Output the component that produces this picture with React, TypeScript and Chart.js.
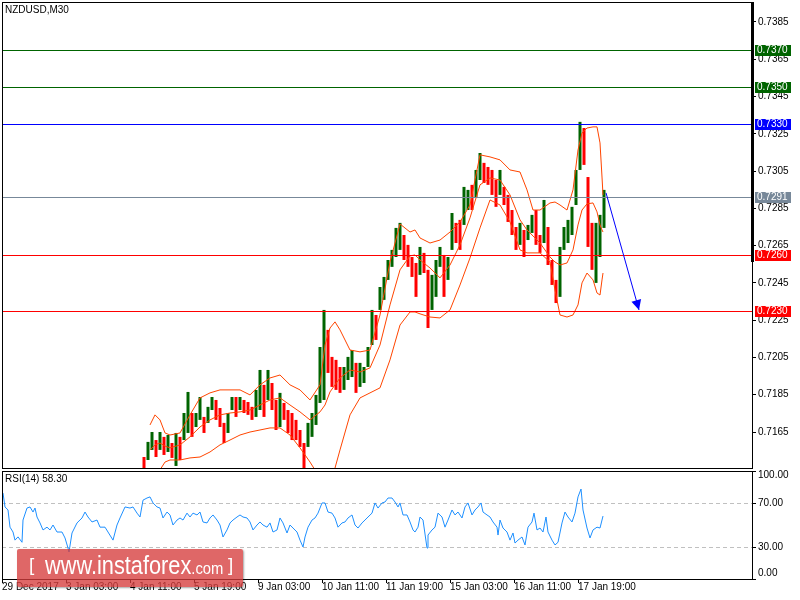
import React, { useEffect, useRef } from "react";
import { Chart, registerables } from "chart.js";

Chart.register(...registerables);

const FONT = "'Liberation Sans', Arial, sans-serif";
Chart.defaults.font.family = FONT;

// ---------------- data ----------------
const symbolTitle = "NZDUSD,M30";
const rsiTitle = "RSI(14) 58.30";

// candles (one sample every 4 M30 bars, starting at bar 142 of the window)
const firstCandleBar = 142;
const barsPerCandle = 4;
const candleHigh = [
  0.71516, 0.71597, 0.7165, 0.71607, 0.7165, 0.71624, 0.71634, 0.71591, 0.71645, 0.71624,
  0.71752, 0.71865, 0.71752, 0.71752, 0.71838, 0.71731, 0.71785, 0.71838, 0.71822, 0.71779,
  0.71699, 0.71752, 0.71838, 0.71838, 0.71838, 0.71822, 0.71811, 0.71785, 0.71876, 0.71983,
  0.71903, 0.71983, 0.71913, 0.71822, 0.7186, 0.71806, 0.71768, 0.71752, 0.71715, 0.71661,
  0.71591, 0.71699, 0.71752, 0.71849, 0.72106, 0.72305, 0.72198, 0.72053, 0.72037, 0.71999,
  0.71999, 0.72053, 0.7209, 0.72021, 0.72021, 0.71999, 0.72106, 0.72305, 0.72278, 0.72428,
  0.72482, 0.72573, 0.72627, 0.72745, 0.72772, 0.72707, 0.72654, 0.72589, 0.72557, 0.72643,
  0.72611, 0.7252, 0.72493, 0.72573, 0.72643, 0.726, 0.72589, 0.72825, 0.72772, 0.72788,
  0.72965, 0.72949, 0.72976, 0.73056, 0.73147, 0.73094, 0.73072, 0.73056, 0.73002, 0.73056,
  0.72965, 0.72922, 0.72841, 0.7275, 0.72772, 0.72734, 0.72761, 0.72815, 0.72841, 0.72707,
  0.72895, 0.7275, 0.72573, 0.72466, 0.72643, 0.7275, 0.72788, 0.72858, 0.73056, 0.73314,
  0.73281, 0.73018, 0.72772, 0.72772, 0.72815, 0.72949,
];
const candleLow = [
  0.71457, 0.715, 0.71554, 0.71516, 0.71554, 0.71527, 0.71543, 0.71511, 0.71468, 0.715,
  0.71607, 0.71645, 0.71624, 0.71677, 0.71715, 0.71645, 0.71699, 0.71768, 0.71715, 0.71677,
  0.71591, 0.71645, 0.71768, 0.71731, 0.71768, 0.71752, 0.71742, 0.71715, 0.71731, 0.71768,
  0.71731, 0.71822, 0.71768, 0.71661, 0.71677, 0.71715, 0.71645, 0.71607, 0.71607, 0.7157,
  0.71457, 0.7157, 0.71624, 0.71688, 0.71806, 0.71822, 0.71967, 0.71892, 0.71876, 0.7186,
  0.71876, 0.71929, 0.71945, 0.7186, 0.71892, 0.71913, 0.71999, 0.72117, 0.72144, 0.72305,
  0.72359, 0.72466, 0.72536, 0.72589, 0.72627, 0.72573, 0.72536, 0.72482, 0.72375, 0.72493,
  0.72503, 0.72208, 0.72305, 0.72375, 0.72536, 0.72375, 0.72466, 0.72627, 0.72664, 0.72627,
  0.72761, 0.72841, 0.72841, 0.72911, 0.73002, 0.72986, 0.72976, 0.72922, 0.72858, 0.72922,
  0.72868, 0.72777, 0.72707, 0.72627, 0.72654, 0.72589, 0.7268, 0.72718, 0.72654, 0.72611,
  0.72664, 0.72546, 0.72439, 0.72342, 0.72375, 0.72627, 0.72664, 0.72707, 0.72868, 0.73056,
  0.73083, 0.72643, 0.7252, 0.7245, 0.72589, 0.72745,
];
const candleClose = [
  0.71489, 0.71565, 0.71607, 0.71554, 0.71618, 0.71565, 0.71607, 0.71543, 0.71581, 0.71554,
  0.71715, 0.71742, 0.71688, 0.71725, 0.71795, 0.71688, 0.71758, 0.71811, 0.71768, 0.71725,
  0.71661, 0.71715, 0.71801, 0.71779, 0.71811, 0.7179, 0.71768, 0.71747, 0.71833, 0.71849,
  0.71822, 0.7194, 0.71822, 0.71742, 0.71795, 0.71758, 0.71688, 0.71661, 0.71634, 0.71607,
  0.71527, 0.7165, 0.71704, 0.71795, 0.72037, 0.72064, 0.72037, 0.71956, 0.7194, 0.71929,
  0.71956, 0.7201, 0.72026, 0.71929, 0.71972, 0.71972, 0.72064, 0.72224, 0.72198, 0.72369,
  0.72439, 0.7253, 0.726, 0.7268, 0.72707, 0.72627, 0.72584, 0.7252, 0.72466, 0.726,
  0.72546, 0.72412, 0.72412, 0.7252, 0.726, 0.7252, 0.72562, 0.72745, 0.72723, 0.72691,
  0.72895, 0.72906, 0.72895, 0.72992, 0.73083, 0.73045, 0.73013, 0.72992, 0.72949, 0.72976,
  0.72922, 0.72841, 0.72761, 0.7268, 0.72723, 0.7267, 0.72723, 0.72761, 0.72723, 0.72654,
  0.72815, 0.726, 0.72493, 0.72402, 0.72573, 0.72707, 0.72745, 0.72815, 0.73002, 0.73271,
  0.73137, 0.72734, 0.72627, 0.7268, 0.72707, 0.72906,
];
const firstOpen = 0.71516;

// Bollinger bands
const bandBar = [
  148, 153, 158, 163, 168, 178, 188, 198, 208, 218, 228, 238, 248, 258, 268, 278, 288, 298, 308, 318,
  323, 328, 333, 338, 348, 358, 368, 378, 388, 398, 408, 413, 418, 428, 438, 448, 458, 468, 478, 488,
  498, 508, 518, 525, 531, 538, 548, 553, 558, 565, 571, 576, 580, 585, 591, 595, 598, 600, 601,
];
const bandUpper = [
  0.71688, 0.71742, 0.71715, 0.71645, 0.71634,
  0.71645, 0.71742, 0.71833, 0.7186, 0.71876, 0.71876, 0.71876, 0.71849, 0.71903, 0.7194, 0.71956, 0.71903, 0.71876, 0.71822, 0.71903,
  0.72117, 0.72208, 0.72241, 0.72198,
  0.7209, 0.7208, 0.7209, 0.72278, 0.72562, 0.72766, 0.72723,
  0.72734, 0.72691,
  0.72664, 0.7268, 0.72723, 0.72777, 0.72868, 0.73137, 0.73126, 0.7311, 0.73056, 0.73045,
  0.72949, 0.72841, 0.72841,
  0.72879, 0.72884, 0.72868,
  0.72841, 0.72949, 0.73163, 0.73255, 0.73281, 0.73287, 0.73287, 0.73201, 0.73018, 0.72922,
];
const bandMiddle = [
  0.71554, 0.71581, 0.71591, 0.71575, 0.71565,
  0.71581, 0.71624, 0.71677, 0.71715, 0.71742, 0.71752, 0.71758, 0.71768, 0.71795, 0.71822, 0.71833, 0.71795, 0.71758, 0.71715, 0.71758,
  0.71795, 0.71865, 0.71903, 0.7194,
  0.71983, 0.71972, 0.71994, 0.72117, 0.72332, 0.7252, 0.72595,
  0.726, 0.72573,
  0.7253, 0.72477, 0.72546, 0.72654, 0.72799, 0.72976, 0.73013, 0.73002, 0.72922, 0.72788,
  0.72734, 0.72702, 0.72664,
  0.72589, 0.72562, 0.72546,
  0.72557, 0.72627, 0.72761, 0.72841, 0.72874, 0.72879, 0.72831, 0.72761, 0.72734, 0.72723,
];
const bandLower = [
  0.71447, 0.71436, 0.71447, 0.71489, 0.715,
  0.715, 0.71511, 0.71516, 0.71543, 0.71581, 0.71607, 0.71634, 0.7165, 0.71661, 0.71672, 0.71672, 0.71634, 0.71565, 0.71489, 0.71404,
  0.71382, 0.71404, 0.71457, 0.71554,
  0.71742, 0.71833, 0.7186, 0.71887, 0.72037, 0.72224, 0.72294,
  0.72294, 0.72284,
  0.72267, 0.72262, 0.72305, 0.72439, 0.72584, 0.72745, 0.72895, 0.72868, 0.72777, 0.72627,
  0.72611, 0.72611, 0.72611,
  0.72562, 0.72412, 0.72278,
  0.72267, 0.72278, 0.72332, 0.7245, 0.72503, 0.72466, 0.72396, 0.72385, 0.72466, 0.72503,
];

// RSI(14)
const rsiBar = [
  1, 3, 6, 8, 11, 13, 16, 20, 21, 25, 28, 31, 33, 35, 38, 41, 45, 48, 51, 55,
  60, 63, 66, 67, 70, 75, 80, 83, 86, 90, 95, 98, 103, 106, 111, 115, 118, 123, 128, 131,
  135, 138, 141, 145, 148, 151, 155, 158, 161, 165, 168, 171, 175, 178, 181, 185, 188, 191, 195, 198,
  201, 205, 208, 211, 215, 218, 221, 225, 228, 231, 235, 238, 241, 245, 248, 251, 255, 258, 261, 265,
  268, 271, 275, 278, 281, 285, 288, 291, 295, 298, 301, 303, 306, 310, 313, 316, 320, 323, 326, 330,
  333, 336, 340, 343, 346, 350, 353, 356, 360, 363, 366, 370, 373, 376, 380, 383, 386, 390, 393, 396,
  398, 401, 405, 408, 411, 413, 416, 418, 421, 425, 426, 430, 433, 436, 440, 443, 446, 450, 453, 456,
  460, 463, 466, 470, 473, 476, 479, 481, 485, 488, 491, 495, 496, 498, 501, 505, 508, 511, 513, 516,
  520, 523, 526, 530, 532, 535, 538, 541, 544, 546, 550, 553, 556, 560, 563, 566, 570, 573, 576, 579,
  581, 585, 588, 591, 595, 598, 601,
];
const rsiValue = [
  79.6, 66.7, 63.9, 48, 43.5, 36, 39, 34, 54.6, 65.7, 66.7, 62, 65.7, 57.4, 51.9, 45.4, 48, 45.4, 50, 43.5,
  43.5, 38, 28.7, 25, 42.6, 51.9, 56.5, 62, 57.4, 52.8, 54.6, 48, 48, 43.5, 36, 50, 56.5, 66.7, 65.7, 66.7,
  61, 57.4, 73, 75, 76, 70.4, 66.7, 65.7, 56.5, 62, 59.3, 50, 54.6, 56.5, 54.6, 61, 57.4, 61, 59.3, 62,
  52.8, 51.9, 56.5, 59.3, 54.6, 50, 38.9, 45.4, 51.9, 54.6, 57.4, 59.3, 57.4, 56.5, 52.8, 45.4, 50, 52.8, 50, 48,
  51.9, 43.5, 45.4, 56.5, 51.9, 42.6, 50, 47.2, 43.5, 36, 29.6, 38.9, 48, 54.6, 56.5, 61, 70.4, 70.4, 62, 61,
  56.5, 48, 51.9, 52.8, 56.5, 59.3, 50, 47.2, 51.9, 54.6, 57.4, 61, 70.4, 65.7, 70.4, 71.3, 75, 75, 71.3, 66.7,
  70.4, 59.3, 59.3, 52.8, 45.4, 43.5, 48, 57.4, 54.6, 28.7, 40.7, 45.4, 48, 61, 57.4, 48, 54.6, 63.9, 59.3, 62,
  56.5, 66.7, 70.4, 59.3, 63.9, 66.7, 70.4, 62, 59.3, 57.4, 52.8, 48, 40.7, 54.6, 47.2, 43.5, 36, 42.6, 33.3, 36,
  38.9, 31.5, 48, 52.8, 61, 45.4, 47.2, 43.5, 57.4, 43.5, 36, 31.5, 34, 51.9, 62, 57.4, 52.8, 61, 76, 83.3,
  63.9, 47.2, 38, 45.4, 48, 47.2, 58.3,
];

// axes
const priceTicks = [0.7385, 0.7365, 0.7345, 0.7325, 0.7305, 0.7285, 0.7265, 0.7245, 0.7225, 0.7205, 0.7185, 0.7165];
const priceMin = 0.71457;
const priceMax = 0.73957;
const barMin = 0;
const barMax = 750;
const timeBars = [0, 64, 128, 192, 256, 320, 384, 448, 512, 576];
const timeLabels = [
  "29 Dec 2017", "3 Jan 03:00", "4 Jan 11:00", "5 Jan 19:00", "9 Jan 03:00",
  "10 Jan 11:00", "11 Jan 19:00", "15 Jan 03:00", "16 Jan 11:00", "17 Jan 19:00",
];
const rsiDashedLevels = [70, 30];
const rsiAxisLevels = [100, 70, 30, 0];

// horizontal levels and forecast arrow
const levelPrices = [0.737, 0.735, 0.733, 0.7291, 0.726, 0.723];
const levelColors = ["#006400", "#006400", "#0000ff", "#778899", "#ff0000", "#ff0000"];
const arrowStart = { bar: 604, price: 0.72933 };
const arrowEnd = { bar: 637, price: 0.72305 };

// ---------------- styles ----------------
const UP = "#006400";
const DOWN = "#ff0000";
const BAND = "#ff4500";
const RSI_COLOR = "#1e90ff";

function mainConfig(): any {
  const candleBars = candleHigh.map((_, i) => firstCandleBar + i * barsPerCandle);
  const candleOpen = candleClose.map((_, i) => (i === 0 ? firstOpen : candleClose[i - 1]));
  const colors = candleClose.map((c, i) => (c >= candleOpen[i] ? UP : DOWN));
  const bandLine = (vals: number[]) => ({
    type: "line",
    data: bandBar.map((b, i) => ({ x: b, y: vals[i] })),
    borderColor: BAND,
    borderWidth: 1,
    pointRadius: 0,
    tension: 0,
    fill: false,
    order: 1,
  });

  const decor = {
    id: "mainDecor",
    beforeDraw(chart: any) {
      const { ctx, width, height } = chart;
      ctx.save();
      ctx.fillStyle = "#ffffff";
      ctx.fillRect(0, 0, width, height);
      ctx.restore();
    },
    afterDraw(chart: any) {
      const { ctx, chartArea, scales } = chart;
      const { left, top, right, bottom } = chartArea;
      const x = scales.x;
      const y = scales.y;
      ctx.save();
      // horizontal levels
      ctx.lineWidth = 1;
      levelPrices.forEach((p, i) => {
        const py = Math.round(y.getPixelForValue(p)) + 0.5;
        ctx.strokeStyle = levelColors[i];
        ctx.beginPath();
        ctx.moveTo(left, py);
        ctx.lineTo(right, py);
        ctx.stroke();
      });
      // arrow
      const x0 = x.getPixelForValue(arrowStart.bar);
      const y0 = y.getPixelForValue(arrowStart.price);
      const x1 = x.getPixelForValue(arrowEnd.bar);
      const y1 = y.getPixelForValue(arrowEnd.price);
      ctx.strokeStyle = "#0000ff";
      ctx.fillStyle = "#0000ff";
      ctx.beginPath();
      ctx.moveTo(x0, y0);
      ctx.lineTo(x1, y1);
      ctx.stroke();
      const ang = Math.atan2(y1 - y0, x1 - x0);
      const L = 10;
      const W = 5;
      ctx.beginPath();
      ctx.moveTo(x1, y1);
      ctx.lineTo(x1 - L * Math.cos(ang) + W * Math.sin(ang), y1 - L * Math.sin(ang) - W * Math.cos(ang));
      ctx.lineTo(x1 - L * Math.cos(ang) - W * Math.sin(ang), y1 - L * Math.sin(ang) + W * Math.cos(ang));
      ctx.closePath();
      ctx.fill();
      // frame
      ctx.strokeStyle = "#000";
      ctx.lineWidth = 1;
      ctx.strokeRect(left + 0.5, top + 0.5, right - left, bottom - top);
      ctx.fillStyle = "#000";
      ctx.fillRect(right - 1, top, 3, 260);
      // level price boxes
      ctx.font = "10px " + FONT;
      ctx.textBaseline = "middle";
      ctx.textAlign = "left";
      levelPrices.forEach((p, i) => {
        const py = Math.round(y.getPixelForValue(p));
        ctx.fillStyle = levelColors[i];
        ctx.fillRect(right + 3, py - 5, 36, 11);
        ctx.fillStyle = "#ffffff";
        ctx.fillText(p.toFixed(4), right + 5, py + 0.5);
      });
      // title
      ctx.fillStyle = "#000";
      ctx.font = "10px " + FONT;
      ctx.fillText(symbolTitle, 5, 10);
      ctx.restore();
    },
  };

  return {
    type: "bar",
    data: {
      datasets: [
        bandLine(bandUpper),
        bandLine(bandMiddle),
        bandLine(bandLower),
        {
          type: "bar",
          data: candleBars.map((b, i) => ({ x: b, y: [candleLow[i], candleHigh[i]] })),
          backgroundColor: colors,
          borderWidth: 0,
          barThickness: 3,
          inflateAmount: 0,
          order: 2,
        },
      ],
    },
    options: {
      responsive: false,
      animation: false,
      events: [],
      layout: { padding: { left: 2, top: 2, right: 0, bottom: 1 } },
      plugins: { legend: { display: false }, tooltip: { enabled: false } },
      scales: {
        x: { type: "linear", min: barMin, max: barMax, display: false, offset: false },
        y: {
          type: "linear",
          position: "right",
          min: priceMin,
          max: priceMax,
          afterBuildTicks: (s: any) => {
            s.ticks = priceTicks.map((v) => ({ value: v }));
          },
          afterFit: (s: any) => {
            s.width = 48;
            s.paddingTop = 0;
            s.paddingBottom = 0;
          },
          ticks: {
            color: "#000",
            font: { family: FONT, size: 10 },
            padding: 2,
            autoSkip: false,
            callback: (v: any) => Number(v).toFixed(4),
          },
          grid: { drawOnChartArea: false, drawTicks: true, tickLength: 4, color: "#000" },
          border: { display: false },
        },
      },
    },
    plugins: [decor],
  };
}

function rsiConfig(): any {
  const decor = {
    id: "rsiDecor",
    beforeDraw(chart: any) {
      const { ctx, width, height } = chart;
      ctx.save();
      ctx.fillStyle = "#ffffff";
      ctx.fillRect(0, 0, width, height);
      ctx.restore();
    },
    beforeDatasetsDraw(chart: any) {
      const { ctx, chartArea, scales } = chart;
      ctx.save();
      ctx.strokeStyle = "#c0c0c0";
      ctx.lineWidth = 1;
      ctx.setLineDash([4, 3]);
      rsiDashedLevels.forEach((v) => {
        const py = Math.round(scales.y.getPixelForValue(v)) + 0.5;
        ctx.beginPath();
        ctx.moveTo(chartArea.left, py);
        ctx.lineTo(chartArea.right, py);
        ctx.stroke();
      });
      ctx.restore();
    },
    afterDraw(chart: any) {
      const { ctx, chartArea, scales } = chart;
      const { left, top, right, bottom } = chartArea;
      ctx.save();
      ctx.strokeStyle = "#000";
      ctx.lineWidth = 1;
      ctx.strokeRect(left + 0.5, top + 0.5, right - left, bottom - top);
      ctx.font = "10px " + FONT;
      ctx.fillStyle = "#000";
      ctx.textAlign = "left";
      ctx.textBaseline = "middle";
      rsiAxisLevels.forEach((v) => {
        const py = Math.round(scales.y.getPixelForValue(v));
        ctx.beginPath();
        ctx.moveTo(right, py + 0.5);
        ctx.lineTo(right + 4, py + 0.5);
        ctx.stroke();
        const off = v === 100 ? 4 : v === 0 ? -6 : 0;
        ctx.fillText(v.toFixed(2), right + 6, py + off);
      });
      ctx.fillText(rsiTitle, 5, 10);
      ctx.restore();
    },
  };
  return {
    type: "line",
    data: {
      datasets: [
        {
          data: rsiBar.map((b, i) => ({ x: b, y: rsiValue[i] })),
          borderColor: RSI_COLOR,
          borderWidth: 1,
          pointRadius: 0,
          tension: 0,
          fill: false,
        },
      ],
    },
    options: {
      responsive: false,
      animation: false,
      events: [],
      layout: { padding: { left: 2, top: 2, right: 0, bottom: 0 } },
      plugins: { legend: { display: false }, tooltip: { enabled: false } },
      scales: {
        x: {
          type: "linear",
          position: "bottom",
          min: barMin,
          max: barMax,
          offset: false,
          afterBuildTicks: (s: any) => {
            s.ticks = timeBars.map((v) => ({ value: v }));
          },
          afterFit: (s: any) => {
            s.height = 21;
            s.paddingLeft = 0;
            s.paddingRight = 0;
          },
          ticks: {
            align: "start",
            autoSkip: false,
            maxRotation: 0,
            minRotation: 0,
            padding: -2,
            color: "#000",
            font: { family: FONT, size: 10 },
            callback: (_v: any, i: number) => timeLabels[i],
          },
          grid: { drawOnChartArea: false, drawTicks: true, tickLength: 4, color: "#000" },
          border: { display: false },
        },
        y: {
          type: "linear",
          position: "right",
          min: 0,
          max: 100,
          afterFit: (s: any) => {
            s.width = 48;
            s.paddingTop = 0;
            s.paddingBottom = 0;
          },
          ticks: { display: false },
          grid: { display: false },
          border: { display: false },
        },
      },
    },
    plugins: [decor],
  };
}

export default function App() {
  const mainRef = useRef<HTMLCanvasElement>(null);
  const rsiRef = useRef<HTMLCanvasElement>(null);

  useEffect(() => {
    const main = new Chart(mainRef.current as HTMLCanvasElement, mainConfig());
    const rsi = new Chart(rsiRef.current as HTMLCanvasElement, rsiConfig());
    return () => {
      main.destroy();
      rsi.destroy();
    };
  }, []);

  return (
    <div
      style={{
        position: "fixed",
        left: 0,
        top: 0,
        width: 800,
        height: 600,
        background: "#fff",
        overflow: "hidden",
      }}
    >
      <canvas
        ref={mainRef}
        width={800}
        height={469}
        style={{ position: "absolute", left: 0, top: 0, width: 800, height: 469 }}
      />
      <canvas
        ref={rsiRef}
        width={800}
        height={131}
        style={{ position: "absolute", left: 0, top: 469, width: 800, height: 131 }}
      />
      <div
        style={{
          position: "absolute",
          left: 17,
          top: 549,
          width: 226,
          height: 38,
          background: "rgba(214,60,60,0.78)",
          boxShadow: "1px 1px 2px rgba(0,0,0,0.35)",
          borderRadius: 2,
          color: "#fff",
          fontFamily: FONT,
          whiteSpace: "nowrap",
          overflow: "hidden",
        }}
      >
        <span style={{ position: "absolute", left: 12, top: 6, fontSize: 19, lineHeight: "19px" }}>[</span>
        <span
          style={{
            position: "absolute",
            left: 28,
            top: 4,
            fontSize: 25,
            lineHeight: "25px",
            transform: "scaleX(0.87)",
            transformOrigin: "left top",
          }}
        >
          www.instaforex<span style={{ fontSize: 17 }}>.com</span>
        </span>
        <span style={{ position: "absolute", left: 211, top: 6, fontSize: 19, lineHeight: "19px" }}>]</span>
      </div>
    </div>
  );
}
